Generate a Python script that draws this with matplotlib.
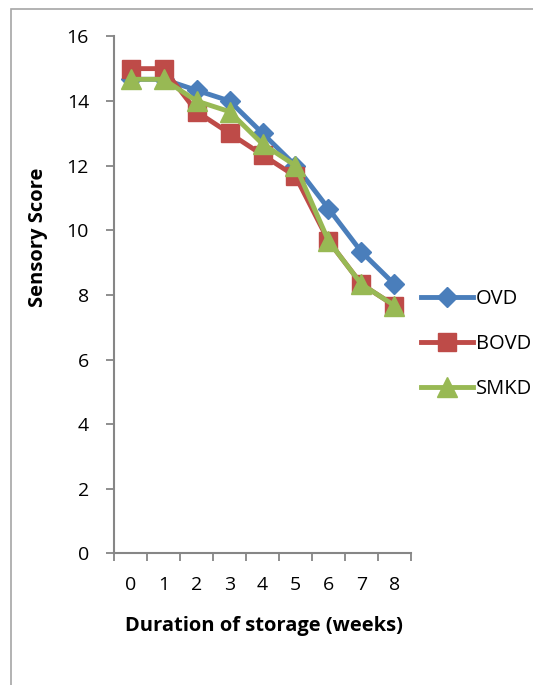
import matplotlib
matplotlib.use("Agg")
import matplotlib.pyplot as plt
from matplotlib.patches import Rectangle

plt.rcParams['font.family'] = ['Open Sans', 'DejaVu Sans']

weeks = ['0', '1', '2', '3', '4', '5', '6', '7', '8']
ovd = [14.67, 14.67, 14.33, 14.0, 13.0, 12.0, 10.67, 9.33, 8.33]
bovd = [15.0, 15.0, 13.67, 13.0, 12.33, 11.67, 9.67, 8.33, 7.67]
smkd = [14.67, 14.67, 14.0, 13.67, 12.67, 12.0, 9.67, 8.33, 7.67]

fig = plt.figure(figsize=(5.33, 6.85), dpi=100)
ax = fig.add_axes([0.214, 0.192, 0.557, 0.755])

# outer chart border (Excel style)
fig.patches.append(Rectangle((11 / 533, -0.1), 1.2, 1 - 9 / 685 + 0.1, transform=fig.transFigure,
                             fill=False, edgecolor='#a6a6a6', linewidth=1.2))

x = list(range(len(weeks)))
ax.plot(x, ovd, color='#4a7ebb', lw=3.5, marker='D', ms=10, label='OVD', zorder=3)
ax.plot(x, bovd, color='#be4b48', lw=3.5, marker='s', ms=13, label='BOVD', zorder=4)
ax.plot(x, smkd, color='#98b954', lw=3.5, marker='^', ms=14, label='SMKD', zorder=5)

ax.set_xlim(-0.5, 8.5)
ax.set_ylim(0, 16)
ax.set_yticks(range(0, 17, 2))
ax.set_xticks(x)
ax.set_xticklabels(weeks)
ax.set_xticks([i - 0.5 for i in range(len(weeks) + 1)], minor=True)
ax.tick_params(axis='x', which='major', length=0, pad=16, labelsize=14)
ax.tick_params(axis='x', which='minor', length=6, width=1.3, color='#868686', direction='out')
ax.tick_params(axis='y', length=6, width=1.3, color='#868686', direction='out', pad=12, labelsize=14)

for s in ['top', 'right']:
    ax.spines[s].set_visible(False)
for s in ['left', 'bottom']:
    ax.spines[s].set_color('#868686')
    ax.spines[s].set_linewidth(1.5)

fig.text(38 / 533, 1 - 237 / 685, 'Sensory Score', fontsize=14.5, fontweight='bold',
         rotation=90, ha='center', va='center')
fig.text(264 / 533, 1 - 626 / 685, 'Duration of storage (weeks)', fontsize=14.5,
         fontweight='bold', ha='center', va='center')

ax.legend(loc='upper left', bbox_to_anchor=(0.775, 0.59), bbox_transform=fig.transFigure,
          frameon=False, fontsize=14.5, handlelength=2.6, handletextpad=0.1,
          labelspacing=1.25, borderaxespad=0)

fig.savefig('out.png', dpi=100)
